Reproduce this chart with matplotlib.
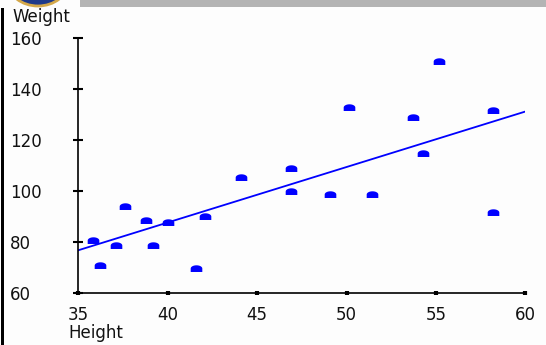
import numpy as np
import matplotlib
matplotlib.use("Agg")
import matplotlib.pyplot as plt
from matplotlib.path import Path
from matplotlib.patches import Rectangle, Ellipse

height = [35.8, 36.2, 37.1, 37.6, 38.8, 39.2, 40.0, 41.6, 42.1, 44.1,
          46.9, 46.9, 49.1, 50.15, 51.4, 53.7, 54.3, 55.2, 58.2, 58.2]
weight = [80.8, 70.7, 78.8, 93.8, 88.5, 78.8, 87.7, 69.7, 89.9, 105.2,
          108.8, 99.8, 98.7, 132.8, 98.7, 128.8, 114.8, 150.8, 131.8, 91.7]
fit_x = [35, 60]
fit_y = [76.6, 131.1]
xticks = [35, 40, 45, 50, 55, 60]
yticks = [60, 80, 100, 120, 140, 160]

W, H = 546, 345
fig = plt.figure(figsize=(W / 100, H / 100), dpi=100)
fig.patch.set_facecolor("#fdfdfd")

def fx(px):
    return px / W

def fy(py):
    return 1 - py / H

ax = fig.add_axes([fx(78.3), fy(292.5), fx(525.3) - fx(78.3), fy(38) - fy(292.5)])
ax.set_facecolor("none")
ax.set_xlim(35, 60)
ax.set_ylim(60, 160)

# half-disc marker
t = np.linspace(0, np.pi, 20)
verts = [(1, -0.6)] + [(np.cos(a), 0.55 * np.sin(a)) for a in t] + [(-1, -0.6), (1, -0.6)]
marker = Path(verts, closed=True)

ax.plot(fit_x, fit_y, color="#0000ff", lw=1.3, zorder=2)
ax.scatter(height, weight, marker=marker, s=70, color="#0000ff", linewidths=0, zorder=3)

for s in ["top", "right"]:
    ax.spines[s].set_visible(False)
for s in ["left", "bottom"]:
    ax.spines[s].set_color("black")
    ax.spines[s].set_linewidth(1.2)

FS = 12
ax.set_xticks(xticks)
ax.set_yticks(yticks)
ax.tick_params(axis="y", direction="inout", length=7, width=1.5, pad=45.5, labelsize=FS)
ax.tick_params(axis="x", direction="inout", length=3, width=3, pad=8, labelsize=FS)
for lab in ax.get_yticklabels():
    lab.set_horizontalalignment("left")
for lab in ax.get_xticklabels() + ax.get_yticklabels():
    lab.set_color("#111111")
    lab.set_family("DejaVu Sans")

fig.text(fx(12), fy(17), "Weight", fontsize=FS, va="center", ha="left", color="#111111")
fig.text(fx(68), fy(333), "Height", fontsize=FS, va="center", ha="left", color="#111111")

# top decorations
fig.patches.append(Rectangle((fx(80), fy(7)), 1 - fx(80), fy(0) - fy(7), transform=fig.transFigure,
                             facecolor="#b4b4b4", edgecolor="none"))
fig.patches.append(Ellipse((fx(38), fy(-18)), fx(60), 48 / H, transform=fig.transFigure,
                           facecolor="#1f3a8a", edgecolor="#d4a84a", lw=2))
fig.patches.append(Rectangle((fx(1), 0), fx(3), fy(8), transform=fig.transFigure,
                             facecolor="black", edgecolor="none"))

fig.savefig("out.png", dpi=100, facecolor=fig.get_facecolor())
